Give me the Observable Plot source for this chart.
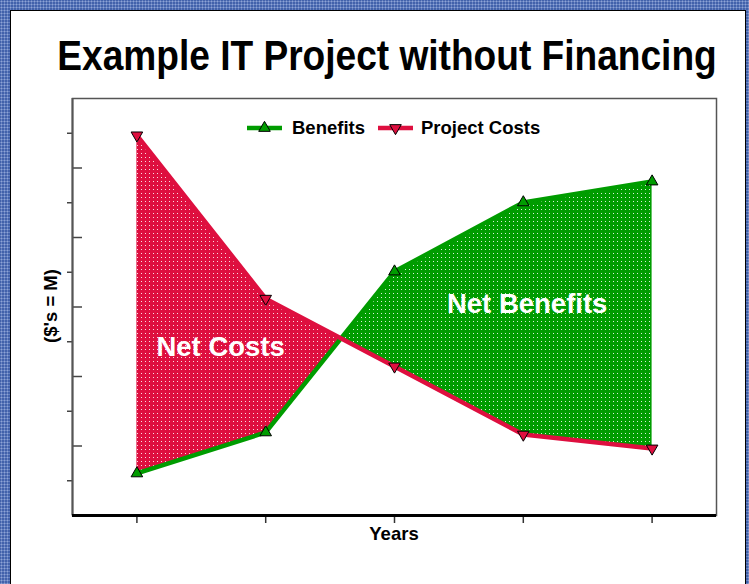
<!DOCTYPE html>
<html>
<head>
<meta charset="utf-8">
<script src="https://cdn.jsdelivr.net/npm/d3@7"></script>
<script src="https://cdn.jsdelivr.net/npm/@observablehq/plot@0.6"></script>
<style>
  html, body { margin: 0; padding: 0; }
  body { width: 749px; height: 584px; overflow: hidden; }
  #page {
    position: relative; width: 749px; height: 584px;
    background-color: #4262ab;
    background-image: radial-gradient(circle, #8ea4d6 0.9px, transparent 1.1px);
    background-size: 3px 3px;
  }
  #sheet {
    position: absolute; left: 10px; top: 10px; width: 734px; height: 580px;
    background: #fff; border-left: 1px solid #000; border-top: 1px solid #000; border-right: 1px solid #000;
  }
  #chart, #overlay { position: absolute; left: 0; top: 0; }
  text { font-family: "Liberation Sans", Arial, sans-serif; }
</style>
</head>
<body>
<div id="page"><div id="sheet"></div><div id="chart"></div><svg id="overlay" width="749" height="584"></svg></div>
<svg width="0" height="0" style="position:absolute">
  <defs>
    <pattern id="redDots" width="4" height="4" patternUnits="userSpaceOnUse">
      <rect width="4" height="4" fill="#DE0F3F"></rect>
      <rect x="1" y="1" width="1" height="1" fill="#fff" fill-opacity="0.85"></rect>
    </pattern>
    <pattern id="greenDots" width="4" height="4" patternUnits="userSpaceOnUse">
      <rect width="4" height="4" fill="#009C00"></rect>
      <rect x="1" y="1" width="1" height="1" fill="#fff" fill-opacity="0.85"></rect>
    </pattern>
  </defs>
</svg>
<script>
// ---- data ----
const years = [1, 2, 3, 4, 5];
const benefits = [1.21, 2.39, 7.02, 9.01, 9.61];
const projectCosts = [10.94, 6.24, 4.29, 2.33, 1.93];
const yTicks = [1, 2, 3, 4, 5, 6, 7, 8, 9, 10, 11];
const seriesNames = ["Benefits", "Project Costs"];

const GREEN = "#009C00";
const RED = "#DE0F3F";

const data = years.map((year, i) => ({year, b: benefits[i], c: projectCosts[i]}));

// insert the crossing point between consecutive years so the two fills meet exactly
const rows = [];
data.forEach((d, i) => {
  rows.push(d);
  const n = data[i + 1];
  if (n) {
    const d0 = d.b - d.c, d1 = n.b - n.c;
    if (d0 * d1 < 0) {
      const t = d0 / (d0 - d1);
      const v = d.b + t * (n.b - d.b);
      rows.push({year: d.year + t * (n.year - d.year), b: v, c: v});
    }
  }
});

const chart = Plot.plot({
  width: 749,
  height: 584,
  marginLeft: 72,
  marginRight: 33,
  marginTop: 98,
  marginBottom: 69,
  style: {background: "transparent", overflow: "visible"},
  x: {domain: [0.5, 5.5]},
  y: {domain: [0, 12]},
  marks: [
    Plot.areaY(rows, {x: "year", y1: "b", y2: d => Math.max(d.b, d.c), fill: "url(#redDots)", curve: "linear"}),
    Plot.areaY(rows, {x: "year", y1: "c", y2: d => Math.max(d.b, d.c), fill: "url(#greenDots)", curve: "linear"}),
    Plot.line(data, {x: "year", y: "b", stroke: GREEN, strokeWidth: 4.5}),
    Plot.line(data, {x: "year", y: "c", stroke: RED, strokeWidth: 4.5}),
    Plot.dot(data, {x: "year", y: "b", symbol: "triangle", r: 4.3, fill: GREEN, stroke: "#000", strokeWidth: 1}),
    Plot.dot(data, {x: "year", y: "c", symbol: "triangle", rotate: 180, r: 4.3, fill: RED, stroke: "#000", strokeWidth: 1}),
    Plot.text(["Net Costs"], {x: 1.65, y: 4.83, text: d => d, fill: "#fff", fontWeight: "bold", fontSize: 27.5, fontFamily: "Liberation Sans, Arial, sans-serif"}),
    Plot.text(["Net Benefits"], {x: 4.03, y: 6.07, text: d => d, fill: "#fff", fontWeight: "bold", fontSize: 27.5, fontFamily: "Liberation Sans, Arial, sans-serif"}),
    Plot.frame({stroke: "#555", strokeWidth: 1.5}),
    Plot.axisY(yTicks.filter(v => v % 2 === 1), {tickSize: 5, tickFormat: () => "", label: null, stroke: "#444", strokeWidth: 1.5}),
    Plot.axisY(yTicks.filter(v => v % 2 === 0), {tickSize: 10, dx: 10, tickFormat: () => "", label: null, stroke: "#444", strokeWidth: 1.5}),
    Plot.axisX(years, {tickSize: 8, tickFormat: () => "", label: null, stroke: "#333", strokeWidth: 1.5}),
    Plot.ruleX([0.5], {stroke: "#555", strokeWidth: 2}),
    Plot.ruleY([0], {stroke: "#000", strokeWidth: 3})
  ]
});
document.getElementById("chart").appendChild(chart);

// ---- title, legend and axis labels ----
const ov = d3.select("#overlay");
ov.append("text")
  .attr("transform", "translate(387,70) scale(0.8835,1)")
  .attr("text-anchor", "middle")
  .attr("font-size", 42).attr("font-weight", "bold")
  .text("Example IT Project without Financing");

ov.append("text")
  .attr("transform", "translate(57,306) rotate(-90)")
  .attr("text-anchor", "middle")
  .attr("font-size", 18.5).attr("font-weight", "bold")
  .text("($'s = M)");

ov.append("text")
  .attr("x", 394).attr("y", 540)
  .attr("text-anchor", "middle")
  .attr("font-size", 18.5).attr("font-weight", "bold")
  .text("Years");

const legend = [
  {name: seriesNames[0], color: GREEN, x0: 247, rot: 0, tx: 292},
  {name: seriesNames[1], color: RED, x0: 378, rot: 180, tx: 421}
];
const tri = d3.symbol(d3.symbolTriangle, Math.PI * 4.3 * 4.3);
legend.forEach(l => {
  ov.append("line").attr("x1", l.x0).attr("x2", l.x0 + 35).attr("y1", 128).attr("y2", 128)
    .attr("stroke", l.color).attr("stroke-width", 4.5);
  ov.append("path").attr("d", tri()).attr("transform", `translate(${l.x0 + 17.5},128) rotate(${l.rot})`)
    .attr("fill", l.color).attr("stroke", "#000").attr("stroke-width", 1);
  ov.append("text").attr("x", l.tx).attr("y", 134)
    .attr("font-size", 18.5).attr("font-weight", "bold").text(l.name);
});
</script>
</body>
</html>
